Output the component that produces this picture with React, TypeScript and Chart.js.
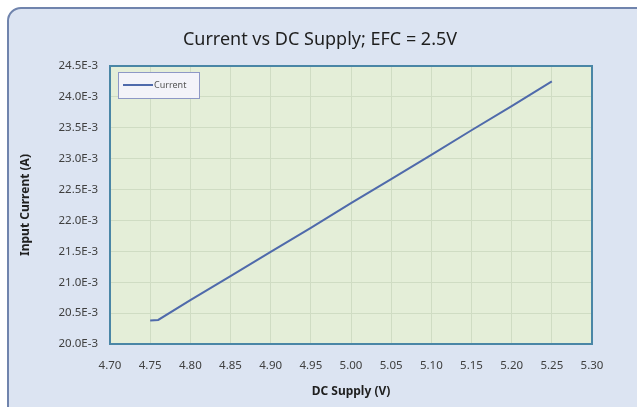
import React, { useEffect, useRef } from "react";
import { Chart, registerables } from "chart.js";

Chart.register(...registerables);

const TITLE = "Current vs DC Supply; EFC = 2.5V";
const X_TITLE = "DC Supply (V)";
const Y_TITLE = "Input Current (A)";
const SERIES_LABEL = "Current";

// DC supply (V)
const supplyVolts = [4.75, 4.76, 4.8, 4.85, 4.9, 4.95, 5.0, 5.05, 5.1, 5.15, 5.2, 5.25];
// Input current (A)
const inputCurrent = [
  0.02038, 0.02039, 0.02071, 0.0211, 0.02149, 0.02188, 0.02228, 0.02267, 0.02306, 0.02346,
  0.02385, 0.02425,
];

const X_MIN = 4.7;
const X_MAX = 5.3;
const X_STEP = 0.05;
const Y_MIN = 0.02;
const Y_MAX = 0.0245;
const Y_STEP = 0.0005;

const FONT = "'Noto Sans', 'Open Sans', sans-serif";

const plotFrame = {
  id: "plotFrame",
  beforeDraw(chart: any) {
    const { ctx, chartArea: a } = chart;
    ctx.save();
    ctx.fillStyle = "#e4eed8";
    ctx.fillRect(a.left, a.top, a.right - a.left, a.bottom - a.top);
    ctx.restore();
  },
  afterDraw(chart: any) {
    const { ctx, chartArea: a } = chart;
    ctx.save();
    // chart title, centred on the whole chart
    ctx.fillStyle = "#1f1f1f";
    ctx.font = "18px " + FONT;
    ctx.textAlign = "center";
    ctx.textBaseline = "middle";
    ctx.fillText(TITLE, 320, 40);

    ctx.strokeStyle = "#4a86a6";
    ctx.lineWidth = 2;
    ctx.strokeRect(a.left, a.top, a.right - a.left, a.bottom - a.top);
    // legend box
    const lx = a.left + 8;
    const ly = a.top + 6;
    const lw = 81;
    const lh = 26;
    ctx.fillStyle = "#f3f3f9";
    ctx.fillRect(lx, ly, lw, lh);
    ctx.strokeStyle = "#8e98c6";
    ctx.lineWidth = 1;
    ctx.strokeRect(lx + 0.5, ly + 0.5, lw, lh);
    const ds = chart.data.datasets[0];
    ctx.strokeStyle = ds.borderColor;
    ctx.lineWidth = 2;
    ctx.beginPath();
    ctx.moveTo(lx + 5, ly + 13);
    ctx.lineTo(lx + 35, ly + 13);
    ctx.stroke();
    ctx.fillStyle = "#555555";
    ctx.font = "9px " + FONT;
    ctx.textBaseline = "middle";
    ctx.textAlign = "left";
    ctx.fillText(ds.label, lx + 36, ly + 13);
    ctx.restore();
  },
};

export default function App() {
  const ref = useRef<HTMLCanvasElement | null>(null);

  useEffect(() => {
    if (!ref.current) return;
    const chart = new Chart(ref.current, {
      type: "line",
      data: {
        datasets: [
          {
            label: SERIES_LABEL,
            data: supplyVolts.map((v, i) => ({ x: v, y: inputCurrent[i] })),
            borderColor: "#4f6aab",
            borderWidth: 2,
            pointRadius: 0,
            tension: 0,
            fill: false,
          },
        ],
      },
      options: {
        responsive: false,
        animation: false,
        layout: { padding: { left: 0, right: 45, top: 66, bottom: 0 } },
        plugins: {
          legend: { display: false },
          tooltip: { enabled: false },
          title: { display: false },
        },
        scales: {
          x: {
            type: "linear",
            min: X_MIN,
            max: X_MAX,
            ticks: {
              stepSize: X_STEP,
              color: "#404040",
              font: { family: FONT, size: 11.5 },
              padding: 15,
              callback: (v: any) => Number(v).toFixed(2),
            },
            grid: { color: "#cfdcc3", drawTicks: false },
            border: { display: false },
            title: {
              display: true,
              text: X_TITLE,
              color: "#1f1f1f",
              font: { family: FONT, size: 12, weight: "bold" },
              padding: { top: 4, bottom: 8 },
            },
            afterFit: (s: any) => {
              s.height = 63;
            },
          },
          y: {
            type: "linear",
            min: Y_MIN,
            max: Y_MAX,
            ticks: {
              stepSize: Y_STEP,
              color: "#404040",
              font: { family: FONT, size: 11.5 },
              padding: 12,
              callback: (v: any) => (Number(v) * 1000).toFixed(1) + "E-3",
            },
            grid: { color: "#cfdcc3", drawTicks: false },
            border: { display: false },
            title: {
              display: true,
              text: Y_TITLE,
              color: "#1f1f1f",
              font: { family: FONT, size: 12, weight: "bold" },
              padding: { top: 18, bottom: 4 },
            },
            afterFit: (s: any) => {
              s.width = 110;
            },
          },
        },
      },
      plugins: [plotFrame],
    });
    return () => chart.destroy();
  }, []);

  return (
    <div
      style={{
        position: "fixed",
        left: 0,
        top: 0,
        width: 637,
        height: 407,
        overflow: "hidden",
        background: "#ffffff",
      }}
    >
      <div
        style={{
          position: "absolute",
          left: 7,
          top: 7,
          width: 680,
          height: 440,
          boxSizing: "border-box",
          border: "2px solid #7084ad",
          borderRadius: 14,
          background: "#dce4f2",
        }}
      />
      <canvas
        ref={ref}
        width={637}
        height={407}
        style={{ position: "absolute", left: 0, top: 0, width: 637, height: 407 }}
      />
    </div>
  );
}
